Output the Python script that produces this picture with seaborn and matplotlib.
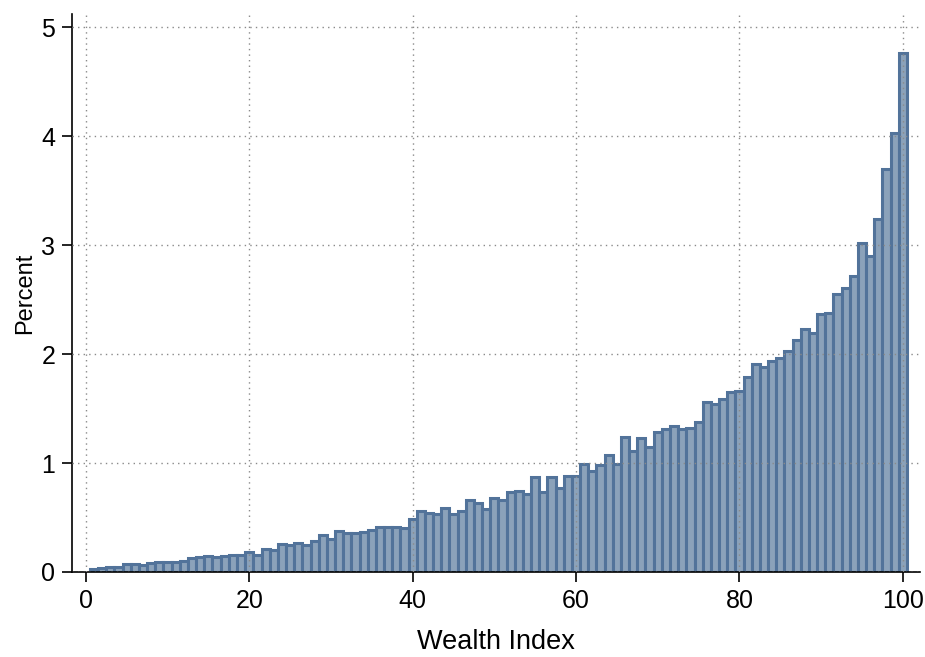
import numpy as np
import pandas as pd
import matplotlib
matplotlib.use("Agg")
import matplotlib.pyplot as plt
import seaborn as sns

wealth_index = list(range(1, 101))
percent = [
    0.03, 0.04, 0.05, 0.05, 0.07, 0.07, 0.06, 0.08, 0.09, 0.09,
    0.09, 0.10, 0.13, 0.14, 0.15, 0.14, 0.15, 0.16, 0.16, 0.18,
    0.16, 0.21, 0.20, 0.26, 0.25, 0.27, 0.25, 0.28, 0.34, 0.30,
    0.38, 0.36, 0.36, 0.37, 0.385, 0.41, 0.41, 0.41, 0.40, 0.49,
    0.56, 0.54, 0.53, 0.59, 0.53, 0.56, 0.66, 0.63, 0.58, 0.68,
    0.66, 0.73, 0.74, 0.72, 0.87, 0.73, 0.87, 0.77, 0.88, 0.88,
    0.99, 0.93, 0.98, 1.07, 0.99, 1.24, 1.11, 1.23, 1.15, 1.28,
    1.31, 1.34, 1.31, 1.32, 1.38, 1.56, 1.54, 1.59, 1.65, 1.66,
    1.79, 1.91, 1.88, 1.94, 1.96, 2.03, 2.13, 2.23, 2.19, 2.37,
    2.38, 2.55, 2.61, 2.72, 3.02, 2.90, 3.24, 3.70, 4.03, 4.76,
]
x_ticks = [0, 20, 40, 60, 80, 100]
y_ticks = [0, 1, 2, 3, 4, 5]

df = pd.DataFrame({"wealth": wealth_index, "pct": percent})

sns.set_theme(style="white")
plt.rcParams["font.family"] = ["Liberation Sans", "DejaVu Sans"]

fig = plt.figure(figsize=(9.25, 6.57), dpi=100)
ax = fig.add_axes([0.0778, 0.1294, 0.9168, 0.8493])

sns.histplot(data=df, x="wealth", weights="pct", discrete=True, shrink=1.0,
             stat="count", color="#8BA2BA", edgecolor="#52739A", linewidth=2.2,
             alpha=1.0, ax=ax)

ax.set_xlim(-1.7, 102.1)
ax.set_ylim(0, 5.12)
ax.set_xticks(x_ticks)
ax.set_yticks(y_ticks)
ax.tick_params(axis="both", which="major", labelsize=18, length=7, width=1.2,
               color="black", labelcolor="black", direction="out",
               bottom=True, left=True, pad=5)
ax.set_axisbelow(False)
ax.grid(True, linestyle=(0, (1, 3)), color="#8a8a8a", linewidth=1.0)
for sp in ["top", "right"]:
    ax.spines[sp].set_visible(False)
for sp in ["left", "bottom"]:
    ax.spines[sp].set_color("black")
    ax.spines[sp].set_linewidth(1.2)

ax.set_xlabel("Wealth Index", fontsize=19.5, labelpad=12, color="black")
ax.set_ylabel("Percent", fontsize=17, labelpad=4, color="black")

fig.savefig("out.png", dpi=100)
